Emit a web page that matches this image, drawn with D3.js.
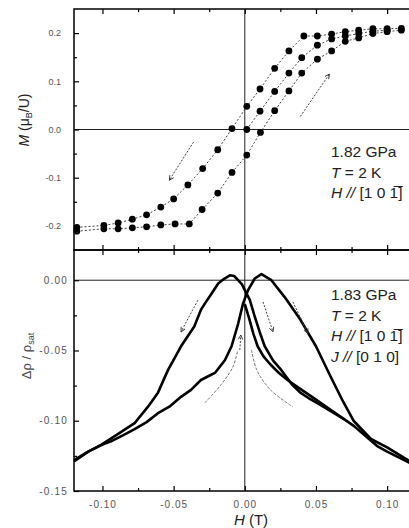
<!DOCTYPE html>
<html>
<head>
<meta charset="utf-8">
<script src="https://cdn.jsdelivr.net/npm/d3@7"></script>
<style>
  body { margin: 0; background: #fff; }
  text { font-family: "Liberation Sans", Arial, sans-serif; }
</style>
</head>
<body>
<div id="chart"></div>
<script>

// upper panel, M(H) at 1.82 GPa : field decreasing branch
mag_dec_H = [0.110, 0.100, 0.090, 0.080, 0.0706, 0.061, 0.051, 0.0415, 0.031, 0.021, 0.0107, 0.0014,
             -0.009, -0.019, -0.0296, -0.040, -0.050, -0.059, -0.069, -0.079, -0.089, -0.099, -0.118]
mag_dec_M = [0.210, 0.209, 0.209, 0.206, 0.203, 0.198, 0.194, 0.194, 0.163, 0.127, 0.084, 0.048,
             0.002, -0.042, -0.081, -0.115, -0.144, -0.161, -0.177, -0.186, -0.194, -0.199, -0.203]

// field increasing branch
mag_inc_H = [-0.118, -0.099, -0.089, -0.079, -0.069, -0.059, -0.049, -0.039, -0.030, -0.019, -0.009, 0.0014,
             0.011, 0.021, 0.031, 0.040, 0.051, 0.061, 0.0706, 0.080, 0.090, 0.100, 0.110]
mag_inc_M = [-0.211, -0.206, -0.206, -0.204, -0.202, -0.198, -0.196, -0.196, -0.166, -0.132, -0.089, -0.053,
             -0.006, 0.039, 0.080, 0.117, 0.146, 0.163, 0.183, 0.190, 0.199, 0.203, 0.206]

// virgin curve
mag_vir_H = [0.0014, 0.0107, 0.021, 0.031, 0.040, 0.051, 0.061, 0.0706, 0.080, 0.090, 0.100]
mag_vir_M = [0.000, 0.038, 0.079, 0.117, 0.149, 0.175, 0.188, 0.194, 0.199, 0.204, 0.206]

// lower panel, resistivity at 1.83 GPa : branch with peak at negative field
res_a_H = [-0.120, -0.110, -0.1007, -0.0914, -0.0774, -0.068, -0.061, -0.054, -0.0448, -0.0355, -0.0308, -0.028,
           -0.0233, -0.0187, -0.0145, -0.0105, -0.0075, -0.0047, -0.002, 0.000, 0.0035, 0.007, 0.0105, 0.014,
           0.0198, 0.0257, 0.033, 0.039, 0.045, 0.051, 0.0624, 0.070, 0.077, 0.085, 0.093, 0.100, 0.106, 0.112, 0.118]
res_a_V = [-0.128, -0.122, -0.117, -0.111, -0.1017, -0.090, -0.080, -0.064, -0.047, -0.033, -0.021, -0.0165,
           -0.0094, -0.0024, 0.001, 0.0035, 0.003, 0.000, -0.003, -0.007, -0.014, -0.026, -0.037, -0.047,
           -0.057, -0.064, -0.074, -0.080, -0.084, -0.0875, -0.0945, -0.099, -0.104, -0.111, -0.118, -0.122, -0.125, -0.128, -0.131]

// branch with peak at positive field
res_b_H = [-0.120, -0.110, -0.100, -0.094, -0.085, -0.0774, -0.069, -0.061, -0.053, -0.0448, -0.0378, -0.0308,
           -0.025, -0.021, -0.014, -0.0093, -0.0047, -0.0012, 0.0023, 0.007, 0.0117, 0.0187, 0.028, 0.039,
           0.050, 0.060, 0.0694, 0.0764, 0.0886, 0.100, 0.112, 0.118]
res_b_V = [-0.129, -0.122, -0.117, -0.1147, -0.110, -0.106, -0.101, -0.0946, -0.090, -0.083, -0.078, -0.071,
           -0.068, -0.066, -0.057, -0.047, -0.031, -0.0165, -0.007, 0.0012, 0.0043, 0.000, -0.012, -0.028,
           -0.047, -0.068, -0.087, -0.100, -0.113, -0.119, -0.1265, -0.130]

// virgin curve
res_v_H = [0.000, 0.003, 0.006, 0.009, 0.013, 0.018, 0.024, 0.030, 0.040, 0.050, 0.060, 0.070]
res_v_V = [-0.017, -0.027, -0.038, -0.047, -0.054, -0.060, -0.066, -0.071, -0.078, -0.085, -0.092, -0.099]

// sweep arrows [H0, v0, H1, v1]
mag_arrows = [[-0.036, -0.026, -0.053, -0.105], [0.039, 0.027, 0.0594, 0.115]]
res_arrows = [[-0.033, -0.0142, -0.0448, -0.0367], [0.0128, -0.0154, 0.0198, -0.0367],
              [0.0338, -0.0154, 0.0443, -0.0378], [-0.0035, -0.0496, -0.0028, -0.039]]
// thin guide curves
res_guide_l = [[-0.028, -0.0872], [-0.0168, -0.0745], [-0.0084, -0.0617], [-0.0049, -0.0496]]
res_guide_r = [[0.0047, -0.0496], [0.0084, -0.0638], [0.018, -0.078], [0.0336, -0.090]]

// ticks
x_major = [-0.10, -0.05, 0.00, 0.05, 0.10]
x_minor = [-0.075, -0.025, 0.025, 0.075]
m_major = [-0.2, -0.1, 0.0, 0.1, 0.2]
m_minor = [-0.15, -0.05, 0.05, 0.15]
r_major = [-0.15, -0.10, -0.05, 0.00]
r_minor = [-0.125, -0.075, -0.025]

var W = 409, Ht = 528

var x  = d3.scaleLinear().domain([-0.12, 0.12]).range([74, 415.6])
var yM = d3.scaleLinear().domain([-0.25, 0.25]).range([250, 9])
var yR = d3.scaleLinear().domain([-0.15, 0.0215]).range([491, 250])

var svg = d3.select("#chart").append("svg")
  .attr("width", W).attr("height", Ht)

svg.append("defs").append("marker")
  .attr("id", "arr").attr("viewBox", "0 0 8 8")
  .attr("refX", 7).attr("refY", 4)
  .attr("markerWidth", 6).attr("markerHeight", 6)
  .attr("orient", "auto")
  .append("path").attr("d", "M1,1 L7,4 L1,7").attr("fill", "none")
  .attr("stroke", "#333").attr("stroke-width", 1.2)

function fmt(n) {
  return function(d) { return d3.format("." + n + "f")(d).replace("\u2212", "-") }
}

function noDomain(g) { g.select(".domain").remove() }

// ---- frames and zero lines
svg.append("rect").attr("x", x(-0.12)).attr("y", yM(0.25))
  .attr("width", x(0.12) - x(-0.12)).attr("height", yM(-0.25) - yM(0.25))
  .attr("fill", "none").attr("stroke", "#000").attr("stroke-width", 1.5)
svg.append("rect").attr("x", x(-0.12)).attr("y", yR(0.0215))
  .attr("width", x(0.12) - x(-0.12)).attr("height", yR(-0.15) - yR(0.0215))
  .attr("fill", "none").attr("stroke", "#000").attr("stroke-width", 1.5)

svg.append("line").attr("x1", x(-0.12)).attr("x2", x(0.12))
  .attr("y1", yM(0)).attr("y2", yM(0)).attr("stroke", "#222").attr("stroke-width", 1)
svg.append("line").attr("x1", x(-0.12)).attr("x2", x(0.12))
  .attr("y1", yR(0)).attr("y2", yR(0)).attr("stroke", "#222").attr("stroke-width", 1)
svg.append("line").attr("x1", x(0)).attr("x2", x(0))
  .attr("y1", yM(0.25)).attr("y2", yR(-0.15)).attr("stroke", "#222").attr("stroke-width", 1)

// ---- x ticks: top of upper panel, shared middle edge, bottom with labels
svg.append("g").attr("transform", "translate(0," + yM(0.25) + ")")
  .call(d3.axisTop(x).tickValues(x_major).tickSize(-5).tickFormat("")).call(noDomain)
svg.append("g").attr("transform", "translate(0," + yM(0.25) + ")")
  .call(d3.axisTop(x).tickValues(x_minor).tickSize(-3).tickFormat("")).call(noDomain)

svg.append("g").attr("transform", "translate(0," + (yM(-0.25) - 5) + ")")
  .call(d3.axisBottom(x).tickValues(x_major).tickSize(10).tickFormat("")).call(noDomain)
svg.append("g").attr("transform", "translate(0," + (yM(-0.25) - 3) + ")")
  .call(d3.axisBottom(x).tickValues(x_minor).tickSize(6).tickFormat("")).call(noDomain)

var xb = svg.append("g").attr("transform", "translate(0," + yR(-0.15) + ")")
  .call(d3.axisBottom(x).tickValues(x_major).tickSize(-5).tickPadding(10).tickFormat(fmt(2))).call(noDomain)
svg.append("g").attr("transform", "translate(0," + yR(-0.15) + ")")
  .call(d3.axisBottom(x).tickValues(x_minor).tickSize(-3).tickFormat("")).call(noDomain)

// ---- y ticks
var ym = svg.append("g").attr("transform", "translate(" + x(-0.12) + ",0)")
  .call(d3.axisLeft(yM).tickValues(m_major).tickSize(-5).tickPadding(13).tickFormat(fmt(1))).call(noDomain)
svg.append("g").attr("transform", "translate(" + x(-0.12) + ",0)")
  .call(d3.axisLeft(yM).tickValues(m_minor).tickSize(-3).tickFormat("")).call(noDomain)

var yr = svg.append("g").attr("transform", "translate(" + x(-0.12) + ",0)")
  .call(d3.axisLeft(yR).tickValues(r_major).tickSize(-5).tickPadding(6).tickFormat(fmt(2))).call(noDomain)
svg.append("g").attr("transform", "translate(" + x(-0.12) + ",0)")
  .call(d3.axisLeft(yR).tickValues(r_minor).tickSize(-3).tickFormat("")).call(noDomain)

svg.selectAll(".tick line").attr("stroke", "#000").attr("stroke-width", 1.2)
svg.selectAll(".tick text").attr("fill", "#555")
  .style("font-family", "'Liberation Sans', Arial, sans-serif")
ym.selectAll("text").style("font-size", "9px")
yr.selectAll("text").style("font-size", "10px").style("letter-spacing", "1.2px")
xb.selectAll("text").style("font-size", "10px").style("letter-spacing", "1px")

// ---- upper panel data
function zip(a, b) { return a.map(function(v, i) { return [v, b[i]] }) }

var mline = d3.line().x(function(d) { return x(d[0]) }).y(function(d) { return yM(d[1]) })
var mag_sets = [zip(mag_dec_H, mag_dec_M), zip(mag_inc_H, mag_inc_M), zip(mag_vir_H, mag_vir_M)]

svg.selectAll(".mline").data(mag_sets).enter().append("path")
  .attr("class", "mline")
  .attr("d", mline).attr("fill", "none")
  .attr("stroke", "#444").attr("stroke-width", 1).attr("stroke-dasharray", "2,2")

mag_sets.forEach(function(s) {
  svg.selectAll(null).data(s).enter().append("circle")
    .attr("cx", function(d) { return x(d[0]) })
    .attr("cy", function(d) { return yM(d[1]) })
    .attr("r", 3.4).attr("fill", "#000")
})

mag_arrows.forEach(function(a) {
  svg.append("line")
    .attr("x1", x(a[0])).attr("y1", yM(a[1])).attr("x2", x(a[2])).attr("y2", yM(a[3]))
    .attr("stroke", "#444").attr("stroke-width", 1).attr("stroke-dasharray", "2,1.5")
    .attr("marker-end", "url(#arr)")
})

// ---- lower panel data
var rline = d3.line().x(function(d) { return x(d[0]) }).y(function(d) { return yR(d[1]) })
var res_sets = [zip(res_a_H, res_a_V), zip(res_b_H, res_b_V), zip(res_v_H, res_v_V)]

svg.selectAll(".rline").data(res_sets).enter().append("path")
  .attr("class", "rline")
  .attr("d", rline).attr("fill", "none")
  .attr("stroke", "#000").attr("stroke-width", 2.6).attr("stroke-linejoin", "round")

res_arrows.forEach(function(a) {
  svg.append("line")
    .attr("x1", x(a[0])).attr("y1", yR(a[1])).attr("x2", x(a[2])).attr("y2", yR(a[3]))
    .attr("stroke", "#444").attr("stroke-width", 1).attr("stroke-dasharray", "2,1.5")
    .attr("marker-end", "url(#arr)")
})

var gline = d3.line().curve(d3.curveCatmullRom)
  .x(function(d) { return x(d[0]) }).y(function(d) { return yR(d[1]) })
svg.selectAll(".guide").data([res_guide_l, res_guide_r]).enter().append("path")
  .attr("class", "guide").attr("d", gline).attr("fill", "none")
  .attr("stroke", "#666").attr("stroke-width", 0.9).attr("stroke-dasharray", "3,1.5")

// ---- labels
function infoBlock(x0, y0, lines) {
  var t = svg.append("g")
  lines.forEach(function(parts, i) {
    var tx = t.append("text").attr("x", x0).attr("y", y0 + i * 20.5)
      .attr("fill", "#222").style("font-size", "15.5px")
    parts.forEach(function(p) {
      tx.append("tspan").text(p[0]).style("font-style", p[1] ? "italic" : "normal")
    })
  })
}

infoBlock(331, 157, [
  [["1.82 GPa", 0]],
  [["T", 1], [" = 2 K", 0]],
  [["H", 1], [" // ", 1], ["[1 0 1\u0305]", 0]]
])
infoBlock(331, 300, [
  [["1.83 GPa", 0]],
  [["T", 1], [" = 2 K", 0]],
  [["H", 1], [" // ", 1], ["[1 0 1\u0305]", 0]],
  [["J", 1], [" // ", 1], ["[0 1 0]", 0]]
])

var xl = svg.append("text").attr("x", 251).attr("y", 525).attr("text-anchor", "middle")
  .attr("fill", "#222").style("font-size", "15px")
xl.append("tspan").text("H").style("font-style", "italic")
xl.append("tspan").text(" (T)")

var ml = svg.append("text").attr("transform", "translate(29,120) rotate(-90)")
  .attr("text-anchor", "middle").attr("fill", "#222").style("font-size", "14px")
ml.append("tspan").text("M").style("font-style", "italic")
ml.append("tspan").text(" (\u03bc")
ml.append("tspan").text("B").attr("dy", 3).style("font-size", "9px")
ml.append("tspan").text("/U)").attr("dy", -3)

var rl = svg.append("text").attr("transform", "translate(31,356) rotate(-90)")
  .attr("text-anchor", "middle").attr("fill", "#444").style("font-size", "13px")
rl.append("tspan").text("\u0394\u03c1 / \u03c1")
rl.append("tspan").text("sat").attr("dy", 3).style("font-size", "9px")

</script>
</body>
</html>
